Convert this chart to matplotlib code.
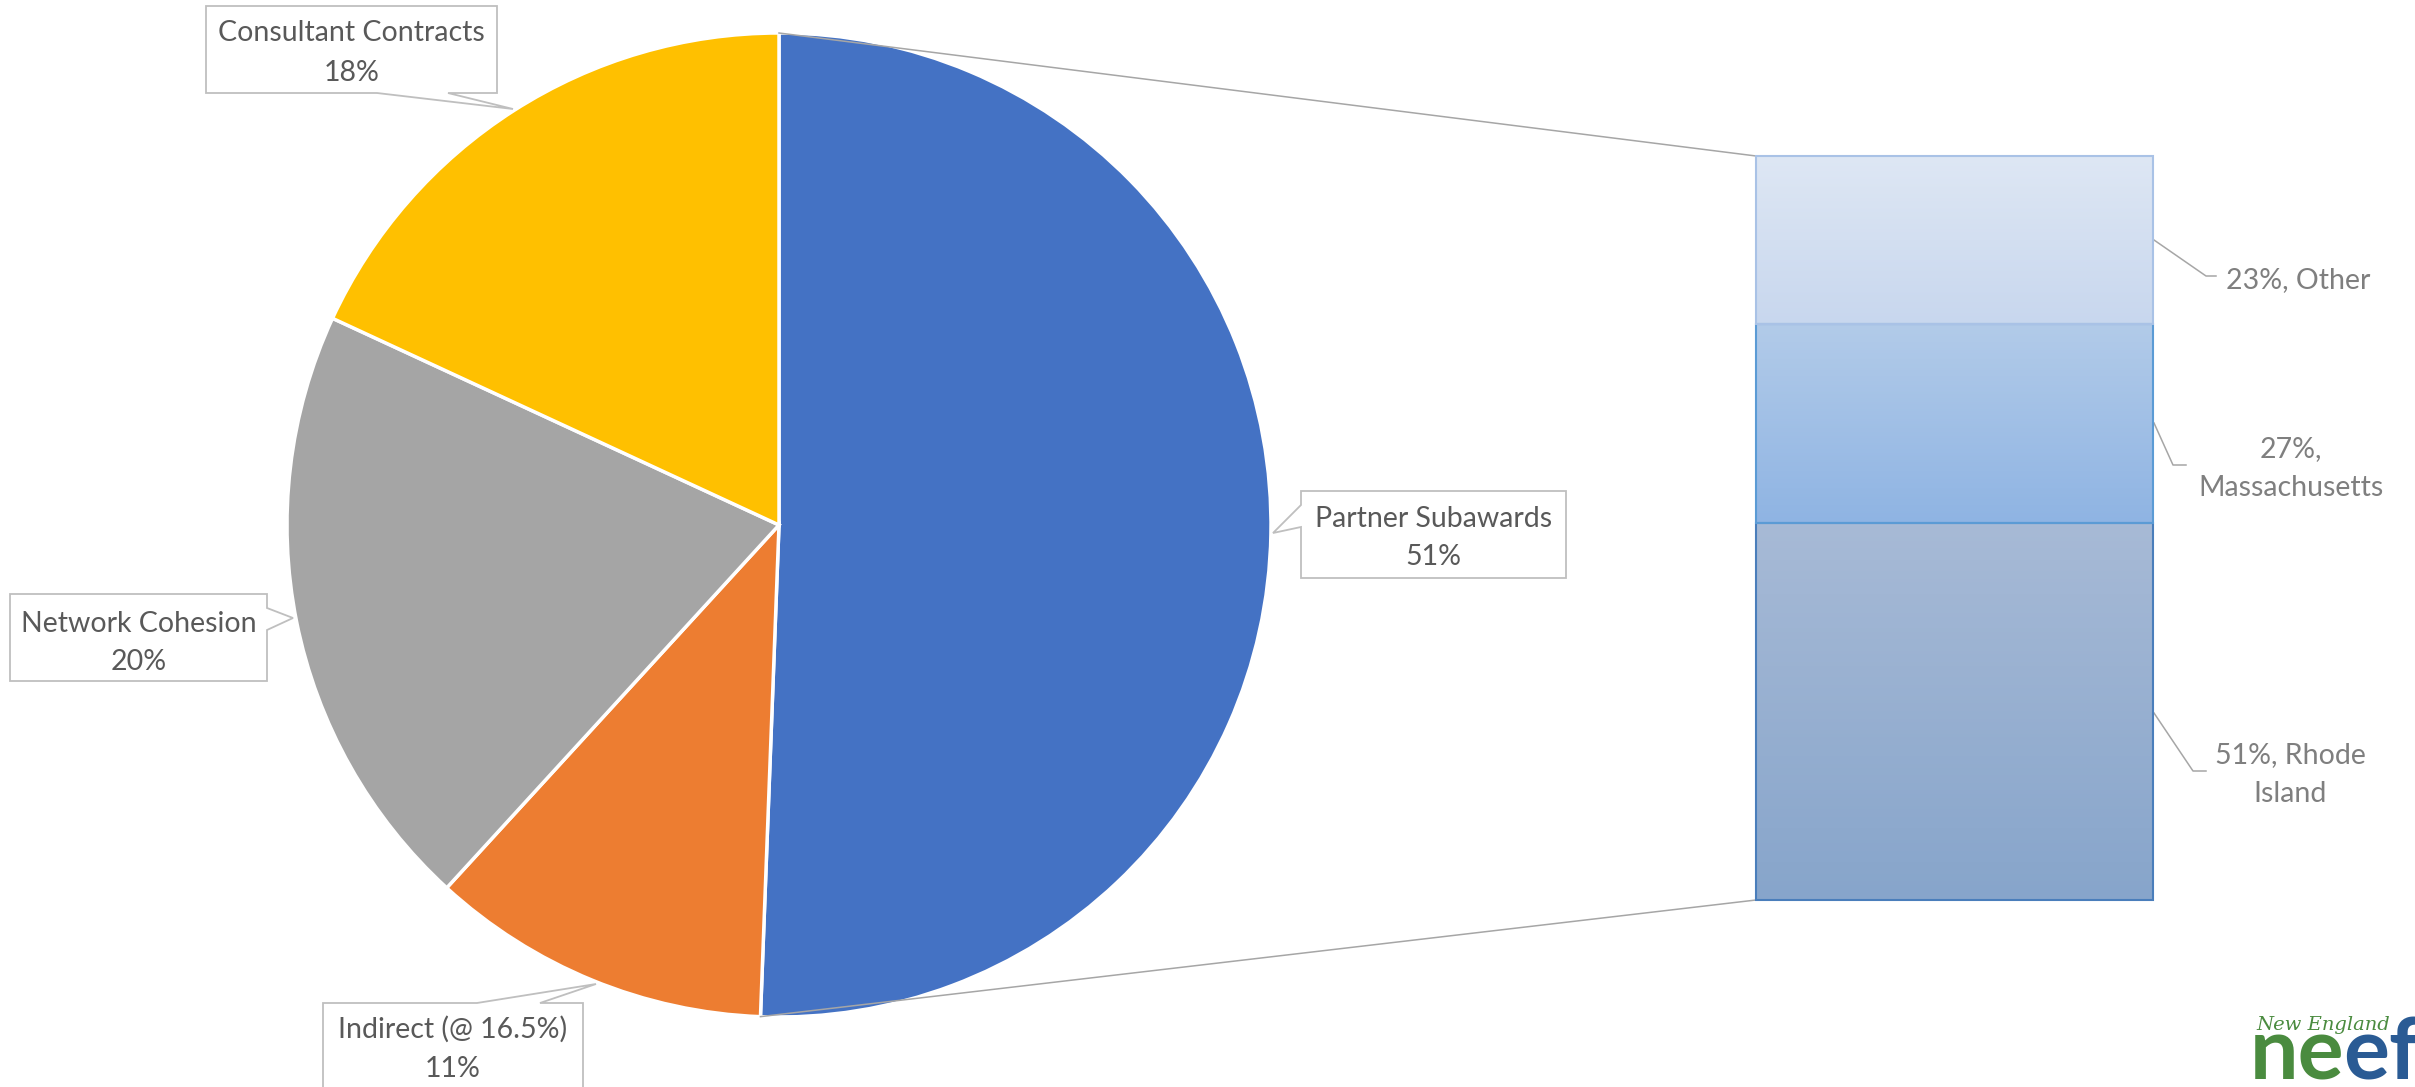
import matplotlib.pyplot as plt
from matplotlib.patches import Polygon
import numpy as np

W, H = 2415, 1087

# main pie (clockwise from 12 o'clock)
pie_names = ['Partner Subawards', 'Indirect (@ 16.5%)', 'Network Cohesion', 'Consultant Contracts']
pie_values = [50.6, 11.2, 20.1, 18.1]
pie_colors = ['#4472C4', '#ED7D31', '#A5A5A5', '#FFC000']

# breakdown of partner subawards, stacked bottom to top
bar_names = ['Rhode Island', 'Massachusetts', 'Other']
bar_values = [50.7, 26.7, 22.6]
bar_top_colors = ['#A7BAD6', '#B2CBE9', '#DEE7F4']
bar_bottom_colors = ['#87A5CB', '#8FB4E3', '#C8D7EE']
bar_edge_colors = ['#4A7EBB', '#5B9BD5', '#A9C2E6']

plt.rcParams['font.family'] = ['Lato', 'DejaVu Sans']

fig = plt.figure(figsize=(W / 100, H / 100), dpi=100)
ax = fig.add_axes([0, 0, 1, 1])


def py(y):
    # pixel row (from top) -> data y
    return H - y


cx, cy, r = 779, py(525), 492
wedges, _ = ax.pie(pie_values, colors=pie_colors, startangle=90, counterclock=False,
                   center=(cx, cy), radius=r,
                   wedgeprops=dict(edgecolor='white', linewidth=2.5))
ax.set_xlim(0, W)
ax.set_ylim(0, H)
ax.set_aspect('auto')
ax.axis('off')

# bar of pie
bx0, bx1, by0, by1 = 1756, 2153, 156, 900
bax = fig.add_axes([bx0 / W, (H - by1) / H, (bx1 - bx0) / W, (by1 - by0) / H])
bottoms = np.cumsum([0] + bar_values[:-1])
bars = bax.bar(0, bar_values, bottom=bottoms, width=1, color='none',
               edgecolor=bar_edge_colors, linewidth=1.5, zorder=3, clip_on=False)
for b, ctop, cbot in zip(bars, bar_top_colors, bar_bottom_colors):
    c0 = np.array(plt.matplotlib.colors.to_rgb(cbot))
    c1 = np.array(plt.matplotlib.colors.to_rgb(ctop))
    t = np.linspace(0, 1, 100)[:, None]
    grad = (c0 + (c1 - c0) * t)[:, None, :]
    im = bax.imshow(grad, extent=[b.get_x(), b.get_x() + b.get_width(),
                                  b.get_y(), b.get_y() + b.get_height()],
                    origin='lower', aspect='auto', zorder=1)
    im.set_clip_path(b)
bax.set_xlim(-0.5, 0.5)
bax.set_ylim(0, sum(bar_values))
bax.axis('off')

# connector lines from the partner wedge to the bar
w = wedges[0]
a1, a2 = np.radians(w.theta1), np.radians(w.theta2)
ax.plot([cx + r * np.cos(a2), bx0], [cy + r * np.sin(a2), py(by0)], color='#A6A6A6', lw=1.1)
ax.plot([cx + r * np.cos(a1), bx0], [cy + r * np.sin(a1), py(by1)], color='#A6A6A6', lw=1.1)


def callout(L, T, R, B, side, b1, b2, tip):
    if side == 'bottom':
        pts = [(L, T), (R, T), (R, B), (b2, B), tip, (b1, B), (L, B)]
    elif side == 'right':
        pts = [(L, T), (R, T), (R, b1), tip, (R, b2), (R, B), (L, B)]
    elif side == 'top':
        pts = [(L, T), (b1, T), tip, (b2, T), (R, T), (R, B), (L, B)]
    else:
        pts = [(L, T), (R, T), (R, B), (L, B), (L, b2), tip, (L, b1)]
    pts = [(x, py(y)) for x, y in pts]
    ax.add_patch(Polygon(pts, closed=True, facecolor='white', edgecolor='#BFBFBF',
                         lw=1.3, zorder=4))


# label layout per slice: box, pointer, text baselines
boxes = [
    (1301, 491, 1566, 578, 'left', 505, 527, (1273, 533), 527, 565),
    (323, 1003, 583, 1095, 'top', 477, 540, (596, 984), 1038, 1077),
    (10, 594, 267, 681, 'right', 608, 630, (293, 618), 632, 670),
    (206, 6, 497, 93, 'bottom', 377, 448, (513, 109), 41, 81),
]
for name, val, bx in zip(pie_names, pie_values, boxes):
    L, T, R, B, side, b1, b2, tip, y1, y2 = bx
    callout(L, T, R, B, side, b1, b2, tip)
    xc = (L + R) / 2
    ax.text(xc, py(y1), name, ha='center', va='baseline', fontsize=20.5,
            color='#595959', zorder=5)
    ax.text(xc, py(y2), '%.0f%%' % val, ha='center', va='baseline', fontsize=20.5,
            color='#595959', zorder=5)

# bar labels with leader lines
leaders = [
    [(2154, 713), (2193, 771), (2206, 771)],
    [(2154, 423), (2173, 465), (2186, 465)],
    [(2154, 240), (2206, 276), (2216, 276)],
]
label_pos = [(2290, 763, 802), (2291, 457, 496), (2298, 288, None)]
for name, val, ld, lp in zip(bar_names, bar_values, leaders, label_pos):
    ax.plot([p[0] for p in ld], [py(p[1]) for p in ld], color='#A6A6A6', lw=1.1)
    xc, y1, y2 = lp
    if name == 'Other':
        ax.text(xc, py(y1), '%.0f%%, %s' % (val, name), ha='center', va='baseline',
                fontsize=20.5, color='#7F7F7F')
    elif name == 'Massachusetts':
        ax.text(xc, py(y1), '%.0f%%,' % val, ha='center', va='baseline',
                fontsize=20.5, color='#7F7F7F')
        ax.text(xc, py(y2), name, ha='center', va='baseline', fontsize=20.5, color='#7F7F7F')
    else:
        first, second = name.split(' ')
        ax.text(xc, py(y1), '%.0f%%, %s' % (val, first), ha='center', va='baseline',
                fontsize=20.5, color='#7F7F7F')
        ax.text(xc, py(y2), second, ha='center', va='baseline', fontsize=20.5, color='#7F7F7F')

# logo, cut off at the corner
ax.text(2256, py(1030), 'New England', fontsize=14, style='italic',
        family=['DejaVu Serif'], color='#4A8B3F')
ax.text(2250, py(1080), 'ne', fontsize=62, weight='bold', color='#4A8B3F')
ax.text(2343, py(1080), 'ef', fontsize=62, weight='bold', color='#2A5B94')

fig.savefig('out.png', dpi=100)
